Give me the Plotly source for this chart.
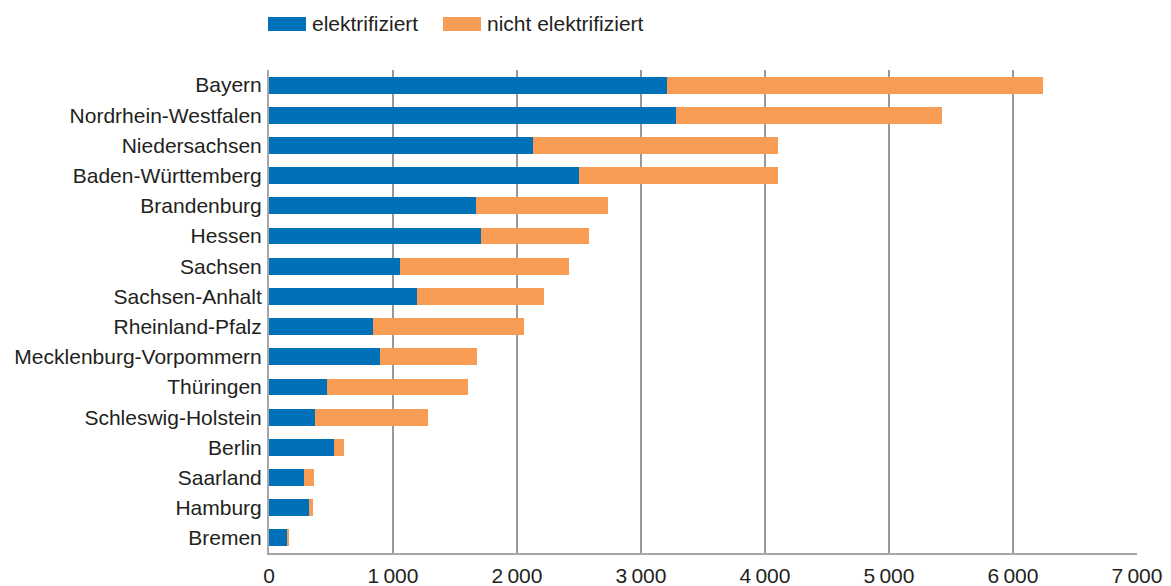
import plotly.graph_objects as go

# Bundesländer, sorted as in the chart (top to bottom)
laender = ["Bayern", "Nordrhein-Westfalen", "Niedersachsen", "Baden-Württemberg",
           "Brandenburg", "Hessen", "Sachsen", "Sachsen-Anhalt", "Rheinland-Pfalz",
           "Mecklenburg-Vorpommern", "Thüringen", "Schleswig-Holstein", "Berlin",
           "Saarland", "Hamburg", "Bremen"]

# track length in km
elektrifiziert = [3207, 3279, 2129, 2500, 1669, 1710, 1056, 1194, 839, 895,
                  468, 371, 524, 282, 323, 153]
gesamt = [6242, 5429, 4101, 4101, 2730, 2577, 2419, 2218, 2056, 1677,
          1605, 1282, 605, 363, 355, 161]
nicht_elektrifiziert = [g - e for g, e in zip(gesamt, elektrifiziert)]

tick_vals = [0, 1000, 2000, 3000, 4000, 5000, 6000, 7000]
tick_text = ["0", "1\u2009000", "2\u2009000", "3\u2009000", "4\u2009000",
             "5\u2009000", "6\u2009000", "7\u2009000"]

blue = "#0071b9"
orange = "#f89c53"
grey = "#999999"
text_col = "#231f20"
fsize = 21

fig = go.Figure()
fig.add_trace(go.Bar(y=laender, x=elektrifiziert, orientation="h",
                     name="elektrifiziert", marker=dict(color=blue, line_width=0)))
fig.add_trace(go.Bar(y=laender, x=nicht_elektrifiziert, orientation="h",
                     name="nicht elektrifiziert", marker=dict(color=orange, line_width=0)))

# the page body adds an 8px margin, so the figure is shifted by 8px
fig.update_layout(
    barmode="stack",
    bargap=0.44,
    width=1163, height=586,
    margin=dict(l=261, r=34, t=62, b=41, autoexpand=False),
    paper_bgcolor="white", plot_bgcolor="white",
    font=dict(family="Liberation Sans, Arial, sans-serif", size=fsize, color=text_col),
    showlegend=False,
)

fig.update_xaxes(range=[0, 7000], tickvals=tick_vals, ticktext=tick_text,
                 showgrid=True, gridcolor=grey, gridwidth=1.5,
                 showline=True, linecolor="#a6a6a6", linewidth=2,
                 zeroline=False, ticks="", ticklabelstandoff=3)
fig.update_yaxes(autorange="reversed", showgrid=False, showline=True,
                 linecolor="#a6a6a6", linewidth=2, ticks="", ticklabelstandoff=1)

# legend drawn by hand, wide swatches as in the original (page x positions)
legend_items = [("elektrifiziert", blue, 268), ("nicht elektrifiziert", orange, 443)]
for label, col, x0 in legend_items:
    fig.add_shape(type="rect", xref="paper", yref="paper",
                  x0=(x0 - 269) / 868, x1=(x0 + 38 - 269) / 868,
                  y0=(553 - 31) / 483, y1=(553 - 17) / 483,
                  fillcolor=col, line_width=0)
    fig.add_annotation(text=label, xref="paper", yref="paper",
                       x=(x0 + 42 - 269) / 868, y=(553 - 24) / 483,
                       xanchor="left", yanchor="middle", showarrow=False,
                       font=dict(size=fsize, color=text_col))

fig.write_html("out.html")
